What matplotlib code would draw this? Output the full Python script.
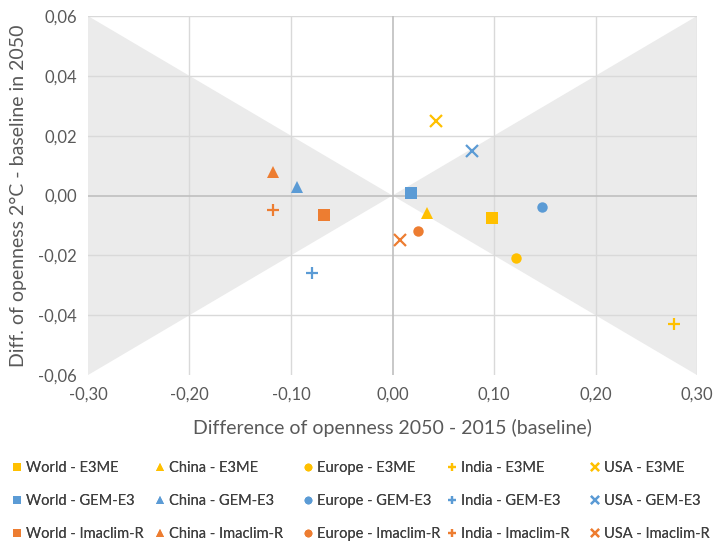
import matplotlib
matplotlib.use("Agg")
import matplotlib.pyplot as plt
from matplotlib.ticker import FuncFormatter

plt.rcParams['font.family'] = ['Lato', 'DejaVu Sans']

regions = ["World", "China", "Europe", "India", "USA"]
models = ["E3ME", "GEM-E3", "Imaclim-R"]
model_colors = {"E3ME": "#FFC000", "GEM-E3": "#5B9BD5", "Imaclim-R": "#ED7D31"}
region_markers = {"World": "s", "China": "^", "Europe": "o", "India": "+", "USA": "x"}

# x: difference of openness 2050-2015 (baseline), y: diff 2°C - baseline in 2050
x_e3me = [0.098, 0.034, 0.122, 0.277, 0.043]
y_e3me = [-0.0075, -0.006, -0.021, -0.043, 0.025]
x_gem = [0.018, -0.094, 0.147, -0.079, 0.078]
y_gem = [0.001, 0.003, -0.004, -0.026, 0.015]
x_ima = [-0.067, -0.118, 0.025, -0.118, 0.007]
y_ima = [-0.0065, 0.008, -0.012, -0.005, -0.015]

xs = {"E3ME": x_e3me, "GEM-E3": x_gem, "Imaclim-R": x_ima}
ys = {"E3ME": y_e3me, "GEM-E3": y_gem, "Imaclim-R": y_ima}

fig = plt.figure(figsize=(7.13, 5.42), dpi=100)
ax = fig.add_axes([0.1234, 0.308, 0.8542, 0.6625])

# grijze zandloper-zones
ax.fill([0, -0.3, -0.3], [0, 0.06, -0.06], color="#ebebeb", zorder=0, lw=0)
ax.fill([0, 0.3, 0.3], [0, 0.06, -0.06], color="#ebebeb", zorder=0, lw=0)

for t in [-0.2, -0.1, 0.1, 0.2, 0.3]:
    ax.axvline(t, color="#d9d9d9", lw=1, zorder=1)
for t in [-0.04, -0.02, 0.02, 0.04, 0.06]:
    ax.axhline(t, color="#d9d9d9", lw=1, zorder=1)
ax.axvline(0, color="#bfbfbf", lw=1.2, zorder=1)
ax.axhline(0, color="#bfbfbf", lw=1.2, zorder=1)

handles = {}
for i, r in enumerate(regions):
    handles[r] = []
    for m in models:
        mk = region_markers[r]
        h, = ax.plot(xs[m][i], ys[m][i], linestyle="none", marker=mk,
                     color=model_colors[m], markersize=8 if mk != "o" else 7.5,
                     markeredgewidth=1.6 if mk in "+x" else 0,
                     label=f"{r} - {m}", zorder=3)
        handles[r].append(h)

ax.set_xlim(-0.3, 0.3)
ax.set_ylim(-0.06, 0.06)
ax.set_xticks([-0.3, -0.2, -0.1, 0, 0.1, 0.2, 0.3])
ax.set_yticks([-0.06, -0.04, -0.02, 0, 0.02, 0.04, 0.06])
fmt = FuncFormatter(lambda v, p: f"{v:.2f}".replace(".", ",").replace("-0,00", "0,00"))
ax.xaxis.set_major_formatter(fmt)
ax.yaxis.set_major_formatter(fmt)
ax.tick_params(length=0, labelsize=12, colors="#595959", pad=8)
for s in ax.spines.values():
    s.set_visible(False)

ax.set_xlabel("Difference of openness 2050 - 2015 (baseline)", fontsize=14, color="#595959", labelpad=12)
ax.set_ylabel("Diff. of openness 2°C - baseline in 2050", fontsize=14, color="#595959", labelpad=8)

# legende: een kolom per regio
col_x = [11, 154, 302, 446, 589]
for r, x0 in zip(regions, col_x):
    leg = fig.legend(handles=handles[r], loc="center left",
                     bbox_to_anchor=(x0 / 713, 1 - 501 / 542), frameon=False,
                     fontsize=10.5, labelcolor="#404040", handletextpad=0.25,
                     labelspacing=1.3, markerscale=0.75, handlelength=0.8,
                     borderpad=0, borderaxespad=0)
    fig.add_artist(leg)

fig.savefig("out.png", dpi=100)
